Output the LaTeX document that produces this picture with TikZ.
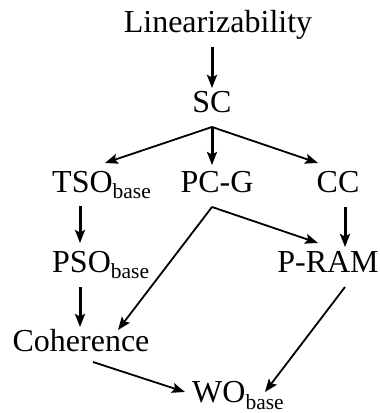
\documentclass[tikz,border=0pt]{standalone}
\usepackage{fontspec}
\setmainfont{Liberation Serif}
\usetikzlibrary{arrows.meta}
\newcommand\mysub[1]{\raisebox{-6pt}{\fontsize{21.5}{22}\selectfont #1}}
\begin{document}
\begin{tikzpicture}[x=1pt,y=1pt,
  lbl/.style={inner sep=0pt, font=\fontsize{32}{36}\selectfont},
  arr/.style={-{Stealth[length=13pt,width=10pt,inset=2.5pt]}, line width=1.8pt},
  varr/.style={arr, line width=3pt}]
\useasboundingbox (0,0) rectangle (380,413);
\node[lbl, anchor=base] (lin) at (218,380) {Linearizability};
\node[lbl, anchor=base] (sc) at (212,300) {SC};
\node[lbl, anchor=base west] (tso) at (52,220) {TSO\mysub{base}};
\node[lbl, anchor=base] (pcg) at (217,220) {PC-G};
\node[lbl, anchor=base] (cc) at (338,220) {CC};
\node[lbl, anchor=base west] (pso) at (52,140) {PSO\mysub{base}};
\node[lbl, anchor=base] (pram) at (328,140) {P-RAM};
\node[lbl, anchor=base] (coh) at (81,61) {Coherence};
\node[lbl, anchor=base west] (wo) at (192,10) {WO\mysub{base}};
% connectors
\draw[varr] ([shift={(-6,-14)}]lin.base) -- ([shift={(0,25)}]sc.base);
\draw[arr] ([shift={(0,-14)}]sc.base) -- ([shift={(53,30)}]tso.base west);
\draw[varr] ([shift={(0,-14)}]sc.base) -- ([shift={(-5,28)}]pcg.base);
\draw[arr] ([shift={(0,-14)}]sc.base) -- ([shift={(-20,30)}]cc.base);
\draw[varr] ([shift={(28,-13)}]tso.base west) -- ([shift={(28,30)}]pso.base west);
\draw[varr] ([shift={(7,-14)}]cc.base) -- ([shift={(17,26)}]pram.base);
\draw[arr] ([shift={(-5,-14)}]pcg.base) -- ([shift={(-10,30)}]pram.base);
\draw[arr] ([shift={(-5,-14)}]pcg.base) -- ([shift={(37,22)}]coh.base);
\draw[varr] ([shift={(28,-14)}]pso.base west) -- ([shift={(-1,25)}]coh.base);
\draw[arr] ([shift={(12,-10)}]coh.base) -- ([shift={(-7,11)}]wo.base west);
\draw[arr] ([shift={(17,-14)}]pram.base) -- ([shift={(73,11)}]wo.base west);
\end{tikzpicture}
\end{document}
